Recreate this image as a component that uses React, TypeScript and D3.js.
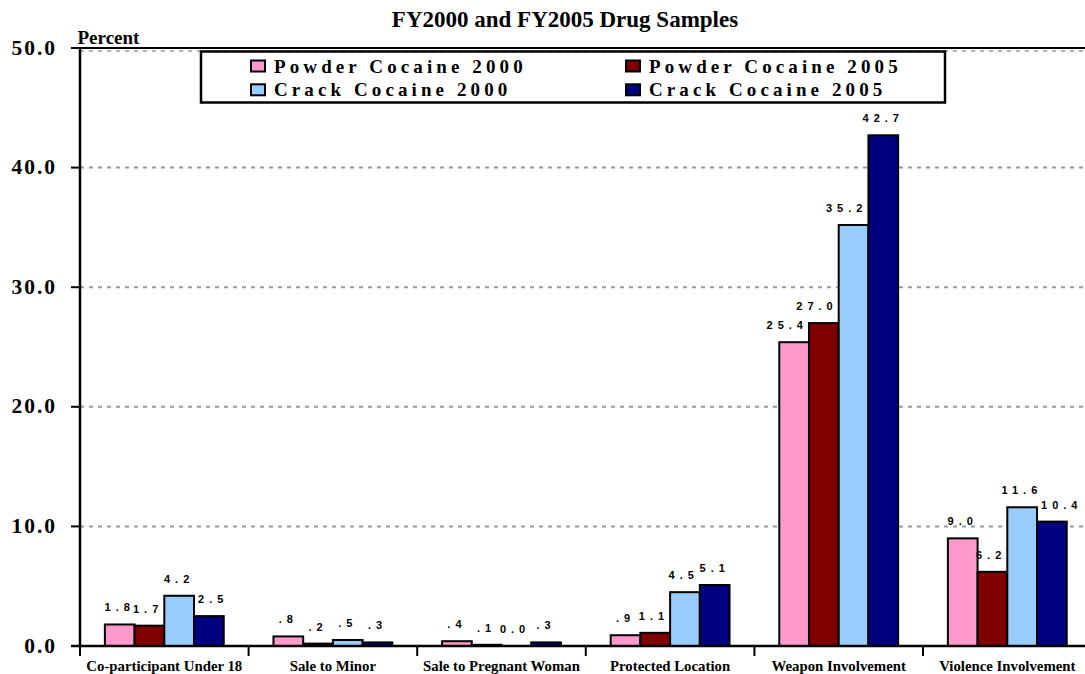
import React from 'react'
import * as d3 from 'd3'

// FY2000 vs FY2005 drug samples — percent of cases per aggravating factor
const CATEGORIES = [
  'Co-participant Under 18',
  'Sale to Minor',
  'Sale to Pregnant Woman',
  'Protected Location',
  'Weapon Involvement',
  'Violence Involvement',
]
const SERIES = ['Powder Cocaine 2000', 'Powder Cocaine 2005', 'Crack Cocaine 2000', 'Crack Cocaine 2005']
const POWDER_2000 = [1.8, 0.8, 0.4, 0.9, 25.4, 9.0]
const POWDER_2005 = [1.7, 0.2, 0.1, 1.1, 27.0, 6.2]
const CRACK_2000 = [4.2, 0.5, 0.0, 4.5, 35.2, 11.6]
const CRACK_2005 = [2.5, 0.3, 0.3, 5.1, 42.7, 10.4]
const Y_TICKS = [0, 10, 20, 30, 40, 50]

const COLORS = ['#ff99cc', '#800000', '#99ccff', '#000080']
const SERIF = '"Liberation Serif", "Times New Roman", serif'
const SANS = '"Liberation Sans", Arial, sans-serif'

const W = 1085, H = 674
const LBL_SIZE = 11, LBL_SPACING = 5

// ".8" style labels, like the original (leading zero dropped)
const fmt = (v: number) => {
  if (v === 0) return '0.0'
  const s = v.toFixed(1)
  return s.startsWith('0') ? s.slice(1) : s
}
// rough Arial-bold width of a value label, trailing letter-spacing included
const labelWidth = (s: string) =>
  s.split('').reduce((w, ch) => w + (ch === '.' ? 0.278 : 0.556) * LBL_SIZE + LBL_SPACING, 0)

function Label({ x, y, anchor = 'middle', size, family = SERIF, spacing = 0, children }: any) {
  return (
    <text x={x} y={y} textAnchor={anchor} fontFamily={family} fontWeight="bold" fontSize={size}
      style={{ letterSpacing: spacing }} fill="#000">
      {children}
    </text>
  )
}

export default function App() {
  const values = [POWDER_2000, POWDER_2005, CRACK_2000, CRACK_2005]
  const left = 80, right = 1091.6, top = 48, bottom = 646

  const x0 = d3.scaleBand<string>().domain(CATEGORIES).range([left, right]).paddingInner(0.295).paddingOuter(0.1475)
  const x1 = d3.scaleBand<string>().domain(SERIES).range([0, x0.bandwidth()])
  const y = d3.scaleLinear().domain([0, 50]).range([bottom, top])
  const step = x0.step()
  const bw = x1.bandwidth()

  // value labels sit above the bar, nudged off a taller neighbour
  const labelX = (ci: number, si: number, text: string) => {
    const gx = x0(CATEGORIES[ci])!
    const bx = gx + x1(SERIES[si])!
    const w = labelWidth(text)
    let lx = bx + bw / 2 - w / 2
    const v = values[si][ci]
    if (si < 3 && values[si + 1][ci] > v) lx = Math.min(lx, bx + bw - 6 - w + LBL_SPACING)
    else if (si > 0 && values[si - 1][ci] > v) lx = Math.max(lx, bx + 4)
    return lx
  }

  return (
    <svg width={W} height={H} style={{ position: 'absolute', left: 0, top: 0, background: '#fff' }}>
      <rect width={W} height={H} fill="#fff" />

      <Label x={565} y={27} size={23}>FY2000 and FY2005 Drug Samples</Label>
      <Label x={77.5} y={44} anchor="start" size={19}>Percent</Label>

      {/* gridlines */}
      {Y_TICKS.filter(t => t > 0 && t < 50).map(t => (
        <line key={t} x1={left} x2={W} y1={y(t)} y2={y(t)} stroke="#999" strokeWidth={2} strokeDasharray="4,5" />
      ))}
      <line x1={71} x2={W} y1={y(50)} y2={y(50)} stroke="#000" strokeWidth={2} />
      <line x1={left} x2={W} y1={y(50) + 3} y2={y(50) + 3} stroke="#999" strokeWidth={1.5} strokeDasharray="4,5" />

      {/* y axis */}
      <line x1={left} x2={left} y1={top} y2={bottom + 1} stroke="#000" strokeWidth={2.5} />
      {Y_TICKS.map(t => (
        <g key={t}>
          <line x1={71} x2={left} y1={y(t)} y2={y(t)} stroke="#000" strokeWidth={2} />
          <Label x={57} y={y(t) + 6.5} anchor="end" size={21.5} spacing={2}>{t.toFixed(1)}</Label>
        </g>
      ))}

      {/* bars */}
      {CATEGORIES.map((c, ci) => (
        <g key={c}>
          {SERIES.map((s, si) => {
            const v = values[si][ci]
            const bx = x0(c)! + x1(s)!
            return (
              <g key={s}>
                <rect x={bx} y={y(v)} width={bw} height={bottom - y(v)}
                  fill={COLORS[si]} stroke="#000" strokeWidth={2} />
                <Label x={labelX(ci, si, fmt(v))} y={y(v) - 13} anchor="start" size={LBL_SIZE}
                  family={SANS} spacing={LBL_SPACING}>
                  {fmt(v)}
                </Label>
              </g>
            )
          })}
        </g>
      ))}

      {/* x axis */}
      <line x1={71} x2={W} y1={bottom} y2={bottom} stroke="#000" strokeWidth={2.5} />
      {d3.range(CATEGORIES.length + 1).map(i => (
        <line key={i} x1={left + i * step} x2={left + i * step} y1={bottom} y2={bottom + 10} stroke="#000" strokeWidth={2} />
      ))}
      {CATEGORIES.map(c => (
        <Label key={c} x={x0(c)! + x0.bandwidth() / 2} y={671} size={14.8}>{c}</Label>
      ))}

      {/* legend */}
      <rect x={201} y={51.5} width={744} height={51} fill="#fff" stroke="#000" strokeWidth={2.5} />
      {SERIES.map((s, i) => {
        const lx = i % 2 === 0 ? 251 : 626
        const ly = i < 2 ? 60.5 : 84.3
        return (
          <g key={s}>
            <rect x={lx} y={ly} width={14} height={11} fill={COLORS[i]} stroke="#000" strokeWidth={2} />
            <Label x={lx + 23} y={ly + 12} anchor="start" size={19} spacing={4.1}>{s}</Label>
          </g>
        )
      })}
    </svg>
  )
}
